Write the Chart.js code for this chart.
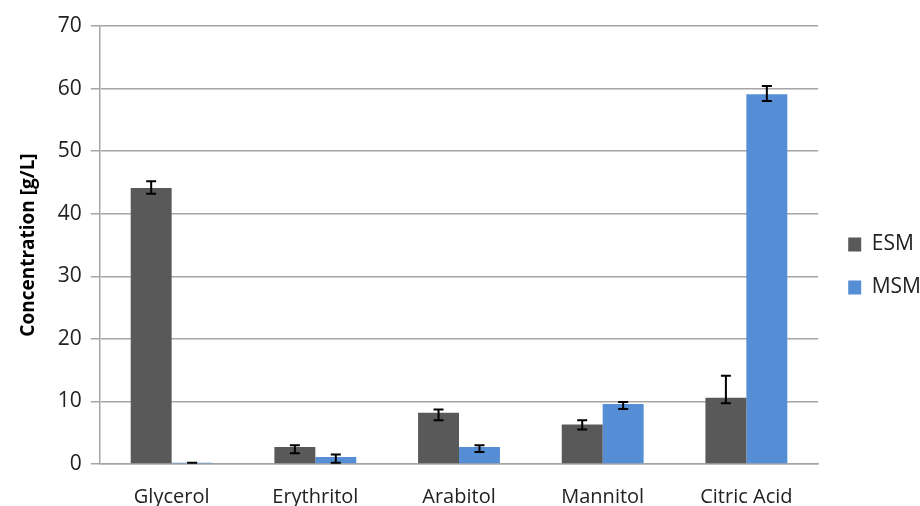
<!DOCTYPE html>
<html>
<head>
    <script src="https://cdn.jsdelivr.net/npm/chart.js"></script>
    <style>
        body { margin: 0; background: #fff; }
        .chart-container { width: 920px; height: 506px; }
    </style>
</head>
<body>
    <div class="chart-container">
        <canvas id="barChart"></canvas>
    </div>
    <script>
        const categories = ['Glycerol', 'Erythritol', 'Arabitol', 'Mannitol', 'Citric Acid'];
        const esmValues = [44.1, 2.7, 8.2, 6.3, 10.6];
        const msmValues = [0.2, 1.1, 2.7, 9.6, 59.1];
        // error bar ends (low, high)
        const esmErrLow = [43.2, 1.7, 7.0, 5.5, 9.7];
        const esmErrHigh = [45.2, 3.0, 8.7, 7.0, 14.1];
        const msmErrLow = [0.2, 0.2, 1.9, 8.8, 58.0];
        const msmErrHigh = [0.2, 1.5, 3.0, 9.9, 60.4];
        const yTicks = [0, 10, 20, 30, 40, 50, 60, 70];

        const fontFamily = '"Open Sans", sans-serif';
        const gridColor = '#a6a6a6';

        const errorBars = {
            id: 'errorBars',
            afterDatasetsDraw(chart) {
                const ctx = chart.ctx;
                const y = chart.scales.y;
                const errs = [[esmErrLow, esmErrHigh], [msmErrLow, msmErrHigh]];
                ctx.save();
                ctx.strokeStyle = '#000';
                ctx.lineWidth = 2;
                chart.data.datasets.forEach((ds, i) => {
                    const meta = chart.getDatasetMeta(i);
                    meta.data.forEach((bar, j) => {
                        const lo = y.getPixelForValue(errs[i][0][j]);
                        const hi = y.getPixelForValue(errs[i][1][j]);
                        const cap = 5;
                        ctx.beginPath();
                        ctx.moveTo(bar.x, lo);
                        ctx.lineTo(bar.x, hi);
                        ctx.moveTo(bar.x - cap, lo);
                        ctx.lineTo(bar.x + cap, lo);
                        ctx.moveTo(bar.x - cap, hi);
                        ctx.lineTo(bar.x + cap, hi);
                        ctx.stroke();
                    });
                });
                ctx.restore();
            }
        };

        const ctx = document.getElementById('barChart').getContext('2d');
        new Chart(ctx, {
            type: 'bar',
            data: {
                labels: categories,
                datasets: [
                    { label: 'ESM', data: esmValues, backgroundColor: '#595959' },
                    { label: 'MSM', data: msmValues, backgroundColor: '#558ed5' }
                ]
            },
            options: {
                responsive: true,
                maintainAspectRatio: false,
                animation: false,
                devicePixelRatio: 1,
                categoryPercentage: 0.57,
                barPercentage: 1.0,
                layout: { padding: { left: 17, right: -11, top: 26, bottom: 0 } },
                scales: {
                    x: {
                        grid: { display: false, drawTicks: false },
                        border: { display: true, color: gridColor, width: 1.5 },
                        ticks: { color: '#222', font: { family: fontFamily, size: 20 }, padding: 21 },
                        afterFit: axis => { axis.height = 42; }
                    },
                    y: {
                        min: 0,
                        max: 70,
                        afterBuildTicks: axis => { axis.ticks = yTicks.map(v => ({ value: v })); },
                        grid: { color: gridColor, lineWidth: 1.5, tickLength: 9 },
                        border: { display: true, color: gridColor, width: 1.5 },
                        ticks: { color: '#222', font: { family: fontFamily, size: 21 }, padding: 9 },
                        title: {
                            display: true,
                            text: 'Concentration [g/L]',
                            color: '#000',
                            font: { family: fontFamily, size: 19, weight: 'bold' },
                            padding: { top: 0, bottom: 9 }
                        }
                    },
                    // empty spacer between plot and legend
                    gap: {
                        position: 'right',
                        display: true,
                        grid: { display: false },
                        border: { display: false },
                        ticks: { display: false },
                        afterFit: axis => { axis.width = 8; }
                    }
                },
                plugins: {
                    legend: {
                        position: 'right',
                        labels: {
                            boxWidth: 13,
                            boxHeight: 14,
                            padding: 22,
                            color: '#222',
                            font: { family: fontFamily, size: 21 }
                        }
                    },
                    tooltip: { enabled: false }
                }
            },
            plugins: [errorBars]
        });
    </script>
</body>
</html>
